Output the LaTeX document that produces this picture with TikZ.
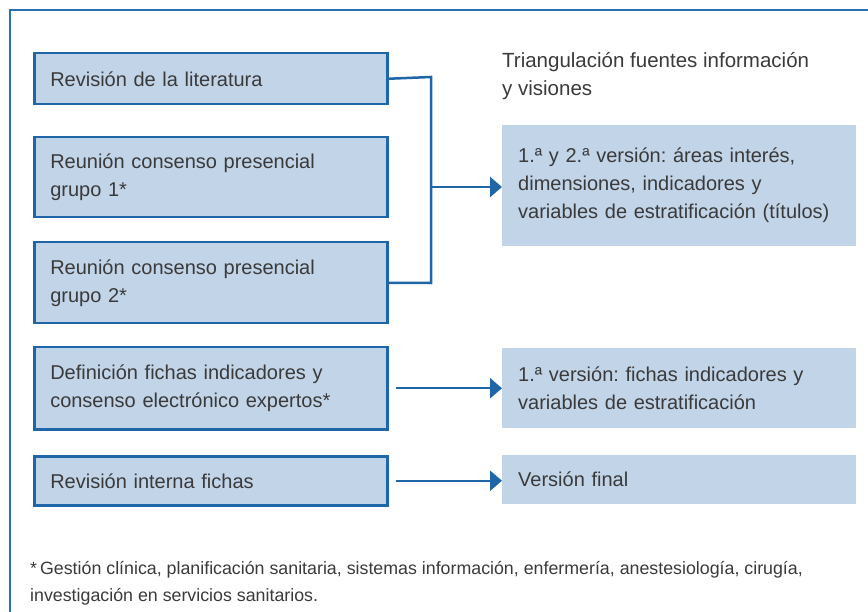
\documentclass[tikz,border=0pt]{standalone}
\usepackage{fontspec}
\setmainfont{Liberation Sans}
\usetikzlibrary{arrows.meta}
\definecolor{frameblue}{HTML}{2A70B5}
\definecolor{boxblue}{HTML}{1E66A8}
\definecolor{boxfill}{HTML}{C2D4E8}
\definecolor{txt}{HTML}{3A3A3A}
\begin{document}
\frenchspacing
\begin{tikzpicture}[x=1pt,y=-1pt,
  leftbox/.style={draw=boxblue, line width=2.5pt, fill=boxfill, anchor=north west,
    minimum width=353pt, text width=321pt, inner xsep=16pt, inner ysep=0pt, align=left,
    font=\fontsize{20}{28}\selectfont, text=txt},
  rightbox/.style={fill=boxfill, anchor=north west,
    minimum width=354pt, text width=322pt, inner xsep=16pt, inner ysep=0pt, align=left,
    font=\fontsize{20}{28}\selectfont, text=txt},
  conn/.style={draw=boxblue, line width=2.5pt},
  arr/.style={conn, -{Triangle[length=12pt,width=20pt]}},
  plain/.style={anchor=west, align=left, inner sep=0pt, text=txt}
]
\useasboundingbox (0,0) rectangle (868,612);
\draw[frameblue, line width=1.5pt] (10,612) -- (10,10) -- (868,10);

\node[leftbox, minimum height=51pt] (b1) at (33,52) {Revisión de la literatura};
\node[leftbox, minimum height=80pt] (b2) at (33,136) {Reunión consenso presencial\\grupo 1*};
\node[leftbox, minimum height=81pt] (b3) at (33,241) {Reunión consenso presencial\\grupo 2*};
\node[leftbox, minimum height=82pt] (b4) at (33,346) {Definición fichas indicadores y\\consenso electrónico expertos*};
\node[leftbox, minimum height=49pt] (b5) at (33,455) {Revisión interna fichas};

\node[rightbox, minimum height=121pt] (r1) at (502,125) {1.ª y 2.ª versión: áreas interés,\\dimensiones, indicadores y\\variables de estratificación (títulos)};
\node[rightbox, minimum height=80pt] (r2) at (502,348) {1.ª versión: fichas indicadores y\\variables de estratificación};
\node[rightbox, minimum height=49pt] (r3) at (502,455) {Versión final};

\node[plain, font=\fontsize{20.5}{28}\selectfont] (title) at (502,76) {Triangulación fuentes información\\y visiones};

\coordinate (j) at (431,187);
\draw[conn] (b1.east) -- (431,77) -- (431,283) -- (b3.east);
\draw[arr] (j) -- (r1.west |- j);
\draw[arr] ([xshift=7pt]b4.east) -- (r2.west |- b4.east);
\draw[arr] ([xshift=7pt]b5.east) -- (r3.west |- b5.east);

\node[plain, font=\fontsize{17.8}{27}\selectfont] (foot) at (30,583.5) {*\,Gestión clínica, planificación sanitaria, sistemas información, enfermería, anestesiología, cirugía,\\investigación en servicios sanitarios.};
\end{tikzpicture}
\end{document}
